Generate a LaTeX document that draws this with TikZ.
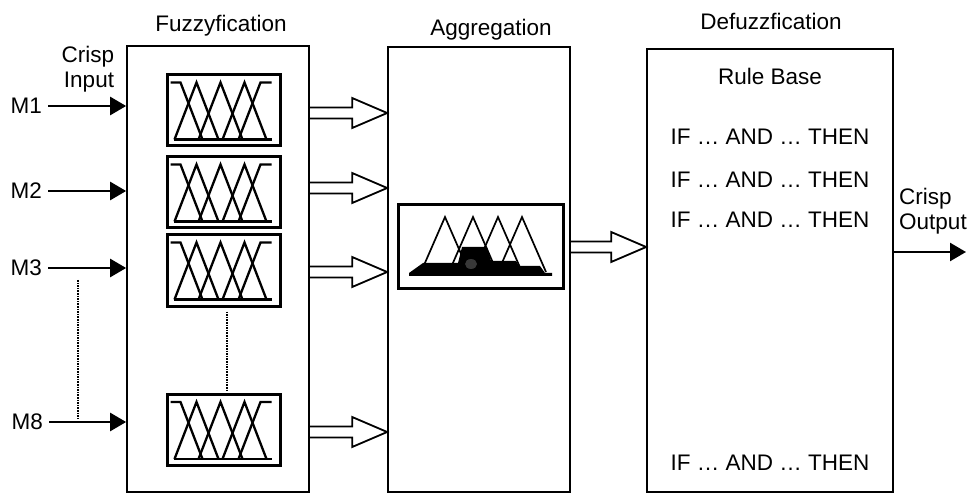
\documentclass[tikz,border=0pt]{standalone}
\usepackage{fontspec}
\setmainfont{Liberation Sans}
\usetikzlibrary{arrows.meta,calc}
\tikzset{
 lbl/.style={font=\fontsize{22.5}{27}\selectfont, inner sep=0pt, text=black},
 bigbox/.style={draw, line width=1.7pt, inner sep=0pt},
 mfbox/.style={draw, line width=3pt, minimum width=113pt, minimum height=71pt, inner sep=0pt},
 mfline/.style={line width=2.3pt, line join=miter},
 aggline/.style={line width=1.7pt, line join=miter},
 inarrow/.style={line width=2.5pt, -{Triangle[length=16pt,width=18pt]}},
 hollowstyle/.style={line width=1.8pt, line join=miter},
 dotline/.style={line width=1.6pt, densely dotted}
}
\newcommand{\hollowarrow}[2]{%
 \draw[hollowstyle] let \p1=(#1), \p2=(#2) in
  (\x1,\y1+5.5pt) -- (\x2-35pt,\y1+5.5pt) -- (\x2-35pt,\y1+15pt) -- (\x2,\y1)
  -- (\x2-35pt,\y1-15pt) -- (\x2-35pt,\y1-5.5pt) -- (\x1,\y1-5.5pt);}
\begin{document}
\begin{tikzpicture}[x=1pt,y=-1pt]
\useasboundingbox (0,0) rectangle (974,494);
\fill[white] (0,0) rectangle (974,494);

% main blocks
\node[bigbox, minimum width=182pt, minimum height=446pt] (fuzz) at (218,269) {};
\node[bigbox, minimum width=182pt, minimum height=445pt] (agg) at (479,269.5) {};
\node[bigbox, minimum width=246pt, minimum height=443pt] (defz) at (770,270.5) {};

% titles
\node[lbl, anchor=base] (t1) at (221,32) {Fuzzyfication};
\node[lbl, anchor=base] (t2) at (491,36) {Aggregation};
\node[lbl, anchor=base] (t3) at (771,30) {Defuzzfication};

% crisp input
\node[lbl, anchor=base] (ci1) at (88,63) {Crisp};
\node[lbl, anchor=base] (ci2) at (89,88) {Input};

% inputs
\node[lbl, anchor=east] (m1) at (42,106) {M1};
\node[lbl, anchor=east] (m2) at (42,191) {M2};
\node[lbl, anchor=east] (m3) at (42,268) {M3};
\node[lbl, anchor=east] (m8) at (43,422) {M8};
\foreach \m in {m1,m2,m3,m8}{
  \draw[inarrow] ([xshift=6pt]\m.east) -- (\m.east -| fuzz.west);
}
\coordinate (dA) at (78,280);
\coordinate (dB) at (78,418);
\draw[dotline] (dA) -- (dB);

% membership function boxes
\node[mfbox] (mf1) at (223.5,110.5) {};
\node[mfbox] (mf2) at (223.5,192.5) {};
\node[mfbox] (mf3) at (223.5,270.5) {};
\node[mfbox] (mf4) at (223.5,430) {};
\foreach \b in {mf1,mf2,mf3,mf4}{
  \begin{scope}[shift={(\b.north west)}]
    \draw[line width=2.6pt] (8,66) -- (106,66);
    \draw[mfline] (5,9) -- (15,9) -- (37,66);
    \draw[mfline] (9,66) -- (31,9) -- (53,66);
    \draw[mfline] (33,66) -- (55,9) -- (77,66);
    \draw[mfline] (57,66) -- (79,9) -- (101,66);
    \draw[mfline] (73,66) -- (95,9) -- (106,9);
  \end{scope}
}
\draw[dotline, shorten <=4pt, shorten >=2pt] ([xshift=3.5pt]mf3.south) -- ([xshift=3.5pt]mf4.north);

% hollow arrows fuzz -> agg
\coordinate (a1) at (0,113);
\coordinate (a2) at (0,188);
\coordinate (a3) at (0,272);
\coordinate (a4) at (0,432);
\coordinate (a5) at (0,247);
\hollowarrow{fuzz.east |- a1}{agg.west |- a1}
\hollowarrow{fuzz.east |- a2}{agg.west |- a2}
\hollowarrow{fuzz.east |- a3}{agg.west |- a3}
\hollowarrow{fuzz.east |- a4}{agg.west |- a4}
\hollowarrow{agg.east |- a5}{defz.west |- a5}

% aggregation graphic
\node[mfbox, minimum width=165pt, minimum height=83pt] (aggbox) at (480.5,246.5) {};
\draw[aggline] (421,272) -- (445,217) -- (469,272);
\draw[aggline] (449,272) -- (473,217) -- (497,272);
\draw[aggline] (474,272) -- (498,217) -- (522,272);
\draw[aggline] (498,272) -- (522,217) -- (546,272);
\fill[black] (409,276) -- (409,273) -- (423,263) -- (458,263) -- (462,247) -- (487,247)
  -- (491,261) -- (516,261) -- (519,266) -- (540,266) -- (545,273) -- (552,273)
  -- (552,276) -- cycle;
\fill[black!78] (471,264) ellipse [x radius=6pt, y radius=5pt];

% rule base
\node[lbl, anchor=base] (rb) at (770,85) {Rule Base};
\node[lbl, anchor=base] (r1) at (770,145) {IF … AND … THEN};
\node[lbl, anchor=base] (r2) at (770,188) {IF … AND … THEN};
\node[lbl, anchor=base] (r3) at (770,228) {IF … AND … THEN};
\node[lbl, anchor=base] (r4) at (770,470) {IF … AND … THEN};

% output
\node[lbl, anchor=base west] (co1) at (899,205) {Crisp};
\node[lbl, anchor=base west] (co2) at (899,230) {Output};
\coordinate (out) at (966,252);
\draw[inarrow] (defz.east |- out) -- (out);
\end{tikzpicture}
\end{document}
